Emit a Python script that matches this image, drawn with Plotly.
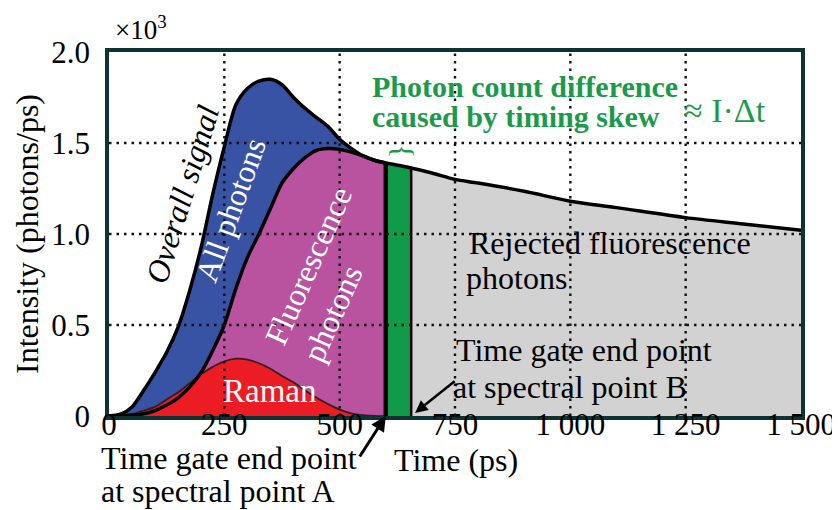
import numpy as np
import plotly.graph_objects as go

# ---------------- data (intensity in 10^3 photons/ps) ----------------
time_all = [0, 25, 50, 75, 100, 125, 150, 175, 200, 225, 250, 275, 300, 325, 350, 375,
            400, 425, 450, 475, 500, 525, 550, 575, 600, 650, 700, 750, 800, 900,
            1000, 1100, 1250, 1375, 1500]
overall = [0, 0.01, 0.05, 0.14, 0.24, 0.35, 0.49, 0.69, 0.93, 1.22, 1.48, 1.71, 1.80, 1.84,
           1.85, 1.82, 1.75, 1.69, 1.64, 1.59, 1.52, 1.47, 1.43, 1.405, 1.39, 1.365, 1.335,
           1.30, 1.28, 1.235, 1.18, 1.145, 1.09, 1.055, 1.02]

time_gate = [0, 25, 50, 75, 100, 125, 150, 175, 200, 225, 250, 275, 300, 325, 350, 375,
             400, 425, 450, 475, 500, 525, 550, 575, 600]
fluorescence = [0, 0, 0.005, 0.012, 0.03, 0.06, 0.10, 0.16, 0.24, 0.36, 0.50, 0.70, 0.87,
                1.00, 1.14, 1.28, 1.36, 1.42, 1.46, 1.47, 1.465, 1.45, 1.43, 1.405, 1.39]
raman = [0, 0, 0.01, 0.03, 0.05, 0.09, 0.13, 0.18, 0.23, 0.27, 0.30, 0.315, 0.31, 0.29,
         0.26, 0.22, 0.185, 0.14, 0.10, 0.065, 0.035, 0.015, 0.005, 0.0, 0.0]

gate_A = 600   # time gate end point at spectral point A (ps)
gate_B = 655   # time gate end point at spectral point B (ps)

x_ticks = [0, 250, 500, 750, 1000, 1250, 1500]
x_ticktext = ["0", "250", "500", "750", "1 000", "1 250", "1 500"]
y_ticks = [0, 0.5, 1.0, 1.5, 2.0]
y_ticktext = ["0", "0.5", "1.0", "1.5", "2.0"]

# ---------------- colours / fonts ----------------
BLUE = "#3953a4"
MAGENTA = "#b9529f"
RED = "#ec1c24"
GREEN = "#119a48"
GREY = "#d2d2d2"
TXT_GREEN = "#1b9a4b"
SERIF = "Liberation Serif"

t_all = np.array(time_all, dtype=float)
y_all = np.array(overall, dtype=float)
yA = float(np.interp(gate_A, t_all, y_all))
yB = float(np.interp(gate_B, t_all, y_all))

mask_rej = t_all > gate_B
t_rej = [gate_B] + list(t_all[mask_rej])
y_rej = [yB] + list(y_all[mask_rej])
mask_band = (t_all > gate_A) & (t_all < gate_B)
t_band = [gate_A] + list(t_all[mask_band]) + [gate_B]
y_band = [yA] + list(y_all[mask_band]) + [yB]
mask_in = t_all <= gate_A
t_in = list(t_all[mask_in])
y_in = list(y_all[mask_in])

fig = go.Figure()
SM = 0.8
# rejected fluorescence photons (grey)
fig.add_trace(go.Scatter(x=t_rej, y=y_rej, mode="lines", fill="tozeroy",
                         fillcolor=GREY, line=dict(color=GREY, width=0, shape="spline", smoothing=SM)))
# timing-skew band (green)
fig.add_trace(go.Scatter(x=t_band, y=y_band, mode="lines", fill="tozeroy",
                         fillcolor=GREEN, line=dict(color=GREEN, width=0, shape="spline", smoothing=SM)))
# all photons (blue)
fig.add_trace(go.Scatter(x=t_in, y=y_in, mode="lines", fill="tozeroy",
                         fillcolor=BLUE, line=dict(color=BLUE, width=0, shape="spline", smoothing=SM)))
# fluorescence photons (magenta)
fig.add_trace(go.Scatter(x=time_gate, y=fluorescence, mode="lines", fill="tozeroy",
                         fillcolor=MAGENTA, line=dict(color=MAGENTA, width=0, shape="spline", smoothing=SM)))
# Raman (red)
fig.add_trace(go.Scatter(x=time_gate, y=raman, mode="lines", fill="tozeroy",
                         fillcolor=RED, line=dict(color="#3a1a1a", width=1.8, shape="spline", smoothing=SM)))
# outlines
fig.add_trace(go.Scatter(x=time_gate, y=fluorescence, mode="lines",
                         line=dict(color="black", width=3.5, shape="spline", smoothing=SM)))
fig.add_trace(go.Scatter(x=time_all, y=overall, mode="lines",
                         line=dict(color="black", width=3.5, shape="spline", smoothing=SM)))
# gate lines
fig.add_trace(go.Scatter(x=[gate_A, gate_A], y=[0, yA], mode="lines",
                         line=dict(color="black", width=4.5)))
fig.add_trace(go.Scatter(x=[gate_B, gate_B], y=[0, yB], mode="lines",
                         line=dict(color="black", width=2.5)))

# dotted grid drawn above the fills
shapes = []
for xv in x_ticks[1:-1]:
    shapes.append(dict(type="line", xref="x", yref="paper", x0=xv, x1=xv, y0=0, y1=1,
                       layer="above", line=dict(color="#111111", width=2.4, dash="2.5px,5px")))
for yv in y_ticks[1:-1]:
    shapes.append(dict(type="line", xref="paper", yref="y", x0=0, x1=1, y0=yv, y1=yv,
                       layer="above", line=dict(color="#111111", width=2.4, dash="2.5px,5px")))

F = dict(family=SERIF, size=32, color="black")
FW = dict(family=SERIF, size=32, color="white")
FG = dict(family=SERIF, size=30, color=TXT_GREEN, weight="bold")

ann = [
    dict(text="×10<sup>3</sup>", xref="paper", yref="paper", x=0.006, y=1.066,
         xanchor="left", yanchor="middle", font=dict(family=SERIF, size=27, color="black")),
    dict(text="<i>Overall signal</i>", x=159, y=1.22, textangle=-73, font=F),
    dict(text="All photons", x=264, y=1.13, textangle=-70, font=FW),
    dict(text="Fluorescence<br>photons", x=474, y=0.78, textangle=-66, align="left", font=FW),
    dict(text="Raman", x=348, y=0.14, font=dict(family=SERIF, size=33, color="white")),
    dict(text="Photon count difference", x=566, y=1.813, xanchor="left", font=FG),
    dict(text="caused by timing skew", x=566, y=1.648, xanchor="left", font=FG),
    dict(text="≈ I·Δt", x=1242, y=1.681, xanchor="left",
         font=dict(family=SERIF, size=34, color=TXT_GREEN)),
    dict(text="}", x=627, y=1.455, textangle=-90, font=dict(family=SERIF, size=30, color=TXT_GREEN)),
    dict(text="Rejected fluorescence", x=775, y=0.948, xanchor="left", font=F),
    dict(text="photons", x=770, y=0.758, xanchor="left", font=F),
    dict(text="Time gate end point", x=747, y=0.36, xanchor="left", font=F),
    dict(text="at spectral point B", x=742, y=0.159, xanchor="left", font=F),
    dict(text="Time gate end point", xref="paper", yref="paper", x=-0.015, y=-0.115,
         xanchor="left", yanchor="middle", font=F),
    dict(text="at spectral point A", xref="paper", yref="paper", x=-0.015, y=-0.206,
         xanchor="left", yanchor="middle", font=F),
    dict(text="Time (ps)", xref="paper", yref="paper", x=0.502, y=-0.12,
         xanchor="center", yanchor="middle", font=F),
    # arrows
    dict(text="", x=gate_A, y=0, ax=-27, ay=42, showarrow=True, arrowhead=2,
         arrowsize=1, arrowwidth=3, arrowcolor="black"),
    dict(text="", x=gate_B, y=0, ax=45, ay=-36, showarrow=True, arrowhead=2,
         arrowsize=1, arrowwidth=2.5, arrowcolor="black", standoff=5),
]
for a in ann:
    a.setdefault("xref", "x")
    a.setdefault("yref", "y")
    a.setdefault("showarrow", False)
    a.setdefault("xanchor", "center")
    a.setdefault("yanchor", "middle")

fig.update_layout(
    width=840, height=510,
    margin=dict(l=101, r=40, t=44, b=102),
    paper_bgcolor="white", plot_bgcolor="white",
    showlegend=False, hovermode=False,
    font=dict(family=SERIF, size=31, color="black"),
    shapes=shapes, annotations=ann,
    xaxis=dict(range=[0, 1500], tickvals=x_ticks, ticktext=x_ticktext, showgrid=False,
               zeroline=False, showline=True, mirror=True, linecolor="#0f3232", linewidth=3.5,
               ticks="", ticklabelstandoff=-22, tickfont=dict(family=SERIF, size=31)),
    yaxis=dict(range=[0, 2.0], tickvals=y_ticks, ticktext=y_ticktext, showgrid=False,
               zeroline=False, showline=True, mirror=True, linecolor="#0f3232", linewidth=3.5,
               ticks="", ticklabelstandoff=9, tickfont=dict(family=SERIF, size=31),
               title=dict(text="Intensity (photons/ps)", standoff=4,
                          font=dict(family=SERIF, size=32))),
)

fig.write_html("out.html")
